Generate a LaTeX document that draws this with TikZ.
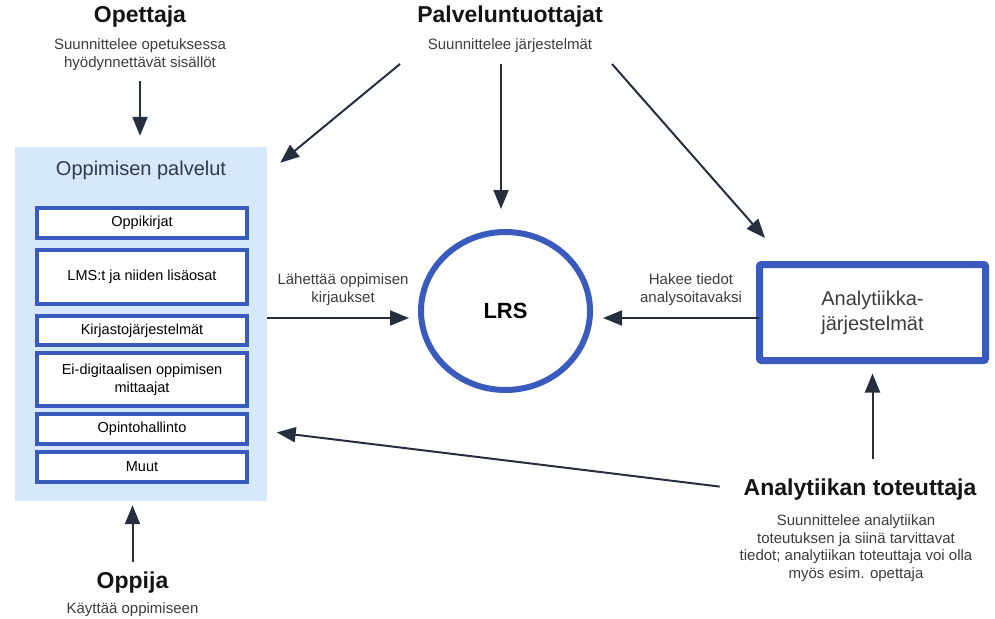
\documentclass[tikz,border=0pt]{standalone}
\usepackage{fontspec}
\setmainfont{Liberation Sans}
\usetikzlibrary{positioning,calc,arrows.meta,shapes.geometric}

\definecolor{boxblue}{HTML}{3A5BBE}
\definecolor{panelblue}{HTML}{D6E8FC}
\definecolor{arrowdark}{HTML}{262E40}
\definecolor{subgray}{HTML}{3C3C3C}
\definecolor{titlegray}{HTML}{333A47}

\begin{document}
\begin{tikzpicture}[x=1pt,y=-1pt,
	actor/.style={inner sep=0pt,text=black!92,font=\fontsize{23}{27}\selectfont\bfseries},
	note/.style={inner sep=0pt,text=subgray,align=center,font=\fontsize{15}{17.5}\selectfont},
	item/.style={draw=boxblue,line width=3.8pt,fill=white,minimum width=210pt,inner sep=0pt,align=center,font=\fontsize{14.5}{17.5}\selectfont},
	arr/.style={draw=arrowdark,line width=2pt,-{Triangle[length=19pt,width=15pt]}}]

\useasboundingbox (0,0) rectangle (995,618);

\node[fill=panelblue,minimum width=252pt,minimum height=354pt,inner sep=0pt](panel) at (141,324){};
\node[inner sep=0pt,text=titlegray,font=\fontsize{20}{24}\selectfont](paneltitle) at (141,170){Oppimisen palvelut};

\foreach[count=\c] \y/\h/\txt in {223/30/Oppikirjat,277/54/{LMS:t ja niiden lisäosat},330.5/29/Kirjastojärjestelmät,379.5/53/{Ei-digitaalisen oppimisen\\mittaajat},429/30/Opintohallinto,467/30/Muut}
	\node[item,minimum height=\h pt](item\c) at (142,\y){\txt};

\node[ellipse,draw=boxblue,line width=6pt,minimum width=169pt,minimum height=158pt,inner sep=0pt,font=\fontsize{22}{26}\selectfont\bfseries](lrs) at (505.5,311){LRS};
\node[draw=boxblue,line width=7pt,rounded corners=2pt,minimum width=226pt,minimum height=96pt,align=center,text=subgray,font=\fontsize{20}{25}\selectfont](ana) at (872.5,312.5){Analytiikka-\\järjestelmät};

\node[actor](opettaja) at (140,17){Opettaja};
\node[note](opsub) at (140,54.5){Suunnittelee opetuksessa\\hyödynnettävät sisällöt};
\node[actor](palvelu) at (510,17){Palveluntuottajat};
\node[note](palsub) at (510,45.5){Suunnittelee järjestelmät};
\node[actor](oppija) at (132.5,582.5){Oppija};
\node[note](oppsub) at (132.5,610){Käyttää oppimiseen};
\node[actor](toteuttaja) at (860,489.5){Analytiikan toteuttaja};
\node[note](totsub) at (856,548){Suunnittelee analytiikan\\toteutuksen ja siinä tarvittavat\\tiedot; analytiikan toteuttaja voi olla\\myös esim. opettaja};

\node[note](sendlbl) at (343,289.5){Lähettää oppimisen\\kirjaukset};
\node[note](fetchlbl) at (691,289.5){Hakee tiedot\\analysoitavaksi};

\coordinate (pstart1) at (400,64);
\coordinate (pstart2) at (501,64);
\coordinate (pstart3) at (612,64);

\draw[arr,shorten <=11pt,shorten >=11pt](opsub.south)--(opsub.south |- panel.north);
\draw[arr](pstart1)--([xshift=13pt,yshift=-16pt]panel.north east);
\draw[arr,shorten >=20pt](pstart2)--(pstart2 |- lrs.north);
\draw[arr](pstart3)--([xshift=9pt,yshift=23pt]ana.north west);
\draw[arr,shorten <=10pt,shorten >=4pt](oppija.north)--(oppija.north |- panel.south);
\draw[arr,shorten >=9pt]([yshift=6pt]panel.east)--([yshift=6pt]panel.east -| lrs.west);
\draw[arr,shorten <=-3pt,shorten >=10pt]([yshift=-5.5pt]ana.west)--([yshift=-5.5pt]ana.west -| lrs.east);
\draw[arr,shorten <=20pt,shorten >=9.5pt](ana.south |- toteuttaja.north)--(ana.south);
\draw[arr,shorten <=24pt,shorten >=28pt](toteuttaja.west)--(item5.east);
\end{tikzpicture}
\end{document}
